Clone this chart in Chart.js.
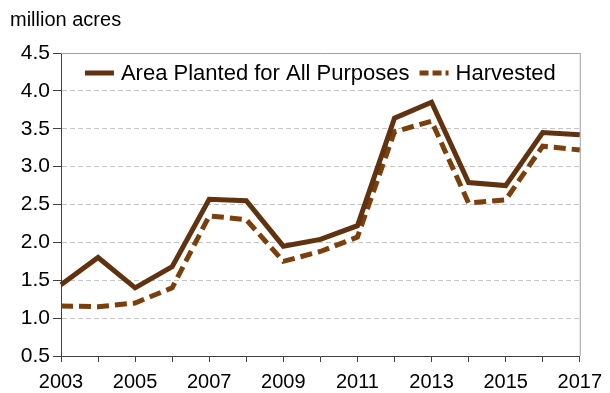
<!DOCTYPE html>
<html>
<head>
<meta charset="utf-8">
<script src="https://cdn.jsdelivr.net/npm/chart.js@4.4.0/dist/chart.umd.min.js"></script>
<style>
  html, body { margin: 0; padding: 0; background: #fff; }
  canvas { display: block; }
</style>
</head>
<body>
<canvas id="chart" width="610" height="393"></canvas>
<script>
const years = ['2003', '2004', '2005', '2006', '2007', '2008', '2009', '2010', '2011', '2012', '2013', '2014', '2015', '2016', '2017'];
const planted = [1.44, 1.80, 1.40, 1.68, 2.57, 2.55, 1.95, 2.04, 2.22, 3.64, 3.85, 2.79, 2.75, 3.45, 3.42];
const harvested = [1.16, 1.15, 1.20, 1.40, 2.35, 2.30, 1.75, 1.88, 2.07, 3.46, 3.60, 2.52, 2.56, 3.27, 3.22];
const yTicks = [0.5, 1.0, 1.5, 2.0, 2.5, 3.0, 3.5, 4.0, 4.5];

const FONT = '"Liberation Sans", Arial, sans-serif';
Chart.defaults.font.family = FONT;
Chart.defaults.color = '#000';

// grey frame on the top and right of the plot
const frame = {
    id: 'frame',
    beforeDatasetsDraw(chart) {
        const { ctx, chartArea: a } = chart;
        ctx.save();
        ctx.strokeStyle = '#a0a0a0';
        ctx.lineWidth = 1;
        ctx.beginPath();
        ctx.moveTo(a.left, a.top + 0.5);
        ctx.lineTo(a.right + 0.5, a.top + 0.5);
        ctx.lineTo(a.right + 0.5, a.bottom);
        ctx.stroke();
        ctx.restore();
    }
};

// one-row legend sitting inside the plot, under the top edge
const innerLegend = {
    id: 'innerLegend',
    afterDraw(chart) {
        const { ctx, chartArea: a } = chart;
        const sample = 29, gapText = 7, gapItem = 10;
        ctx.save();
        ctx.font = '22px ' + FONT;
        ctx.textBaseline = 'middle';
        const items = chart.data.datasets.map(ds => ({ ds, w: ctx.measureText(ds.label).width }));
        let total = 0;
        items.forEach((it, i) => { total += sample + gapText + it.w + (i ? gapItem : 0); });
        let x = (a.left + a.right) / 2 - total / 2;
        const y = a.top + 20;
        items.forEach((it, i) => {
            if (i) x += gapItem;
            ctx.strokeStyle = it.ds.borderColor;
            ctx.lineWidth = it.ds.borderWidth;
            ctx.lineCap = 'butt';
            ctx.setLineDash(it.ds.borderDash ? [9, 4] : []);
            ctx.beginPath();
            ctx.moveTo(x, y);
            ctx.lineTo(x + sample, y);
            ctx.stroke();
            ctx.setLineDash([]);
            x += sample + gapText;
            ctx.fillStyle = '#000';
            ctx.fillText(it.ds.label, x, y + 1);
            x += it.w;
        });
        ctx.restore();
    }
};

new Chart(document.getElementById('chart').getContext('2d'), {
    type: 'line',
    data: {
        labels: years,
        datasets: [{
            label: 'Area Planted for All Purposes',
            data: planted,
            borderColor: '#60320f',
            backgroundColor: '#60320f',
            borderWidth: 5,
            borderJoinStyle: 'miter',
            pointRadius: 0,
            tension: 0
        }, {
            label: 'Harvested',
            data: harvested,
            borderColor: '#7b3f0b',
            backgroundColor: '#7b3f0b',
            borderWidth: 5,
            borderDash: [12, 6],
            borderJoinStyle: 'miter',
            pointRadius: 0,
            tension: 0
        }]
    },
    options: {
        responsive: false,
        animation: false,
        layout: { padding: { left: 10, right: 28, top: 0, bottom: 0 } },
        scales: {
            x: {
                afterFit: s => { s.height = 37; },
                grid: { drawOnChartArea: false, tickLength: 6, tickColor: '#404040' },
                border: { color: '#404040' },
                ticks: {
                    autoSkip: false,
                    maxRotation: 0,
                    padding: 8,
                    font: { size: 20 },
                    callback: (v, i) => (i % 2 === 0 ? years[i] : '')
                }
            },
            y: {
                min: 0.5,
                max: 4.5,
                afterFit: s => { s.width = 51; },
                afterBuildTicks: s => { s.ticks = yTicks.map(v => ({ value: v })); },
                grid: {
                    tickLength: 8,
                    tickColor: '#404040',
                    color: c => (c.tick && c.tick.value > 0.5 && c.tick.value < 4.5 ? '#c4c4c4' : 'rgba(0,0,0,0)')
                },
                border: { color: '#404040', dash: [5, 3] },
                ticks: {
                    padding: 3,
                    font: { size: 21 },
                    callback: v => v.toFixed(1)
                }
            }
        },
        plugins: {
            title: {
                display: true,
                text: 'million acres',
                align: 'start',
                color: '#000',
                font: { size: 20, weight: 'normal' },
                padding: { top: 8, bottom: 21 }
            },
            legend: { display: false },
            tooltip: { enabled: false }
        }
    },
    plugins: [frame, innerLegend]
});
</script>
</body>
</html>
